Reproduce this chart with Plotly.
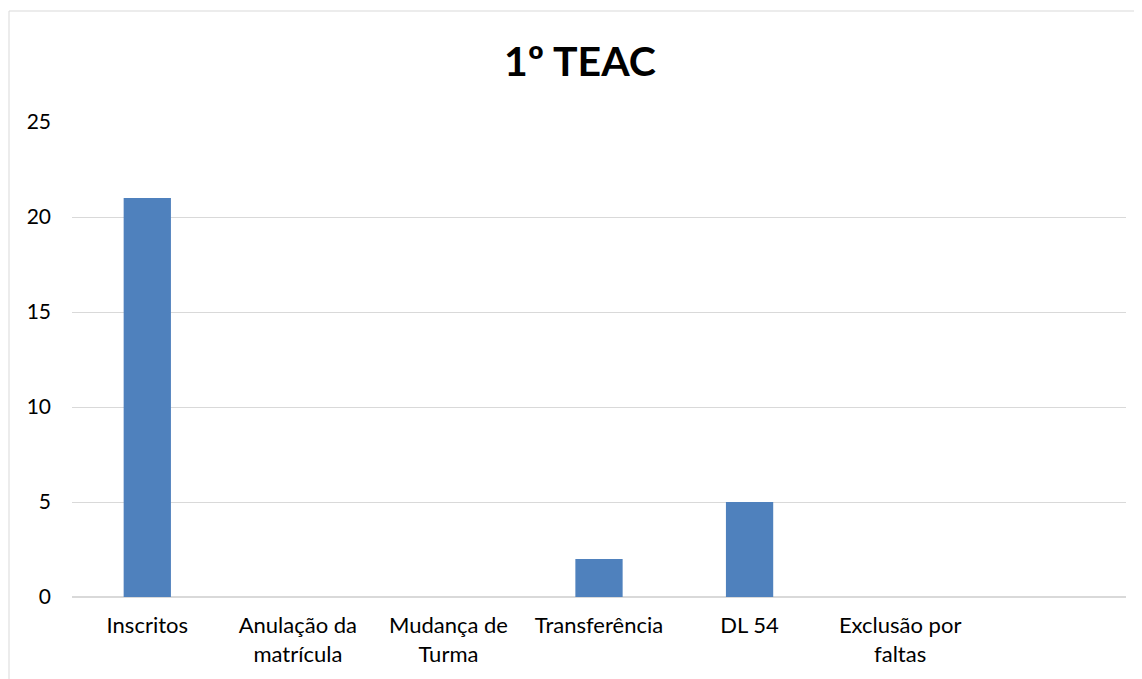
import plotly.graph_objects as go

categories = ["Inscritos", "Anulação da<br>matrícula", "Mudança de<br>Turma", "Transferência", "DL 54", "Exclusão por<br>faltas", " "]
values = [21, 0, 0, 2, 5, 0, 0]
y_ticks = [0, 5, 10, 15, 20, 25]

# page body has an 8px margin; compensate
OFF = 8
W, H = 1142 - OFF, 679 - OFF
L, T = 72 - OFF, 122 - OFF
R = W - (1126 - OFF)
B = H - (597 - OFF)
pw, ph = W - L - R, H - T - B

fig = go.Figure()
fig.add_trace(go.Bar(x=categories, y=values, marker=dict(color="#4F81BD", line=dict(width=0))))

fig.update_layout(
    width=W, height=H,
    margin=dict(l=L, r=R, t=T, b=B, autoexpand=False),
    paper_bgcolor="white", plot_bgcolor="white",
    bargap=0.686,
    showlegend=False,
    font=dict(family="Lato, Carlito, sans-serif", size=22, color="#000000"),
    title=dict(text="<b>1º TEAC</b>", x=(580 - OFF) / W, xref="container", xanchor="center",
               y=1 - (62 - OFF) / H, yref="container", yanchor="middle",
               font=dict(size=41, family="Lato, sans-serif", color="#000000")),
    xaxis=dict(showgrid=False, showline=False, ticks="", tickfont=dict(size=22), ticklabelstandoff=13),
    yaxis=dict(range=[0, 25], tickvals=y_ticks, showgrid=True, gridcolor="#d9d9d9", gridwidth=1,
               zeroline=True, zerolinecolor="#d9d9d9", zerolinewidth=1.5, ticks="", showline=False,
               tickfont=dict(size=21), ticklabelstandoff=20),
    shapes=[dict(type="rect", xref="paper", yref="paper",
                 x0=(9 - 72) / pw, x1=(1141 - 72) / pw,
                 y0=(597 - 700) / ph, y1=(597 - 11) / ph,
                 line=dict(color="#d9d9d9", width=1), fillcolor="rgba(0,0,0,0)", layer="below")],
)
fig.write_html("out.html")
